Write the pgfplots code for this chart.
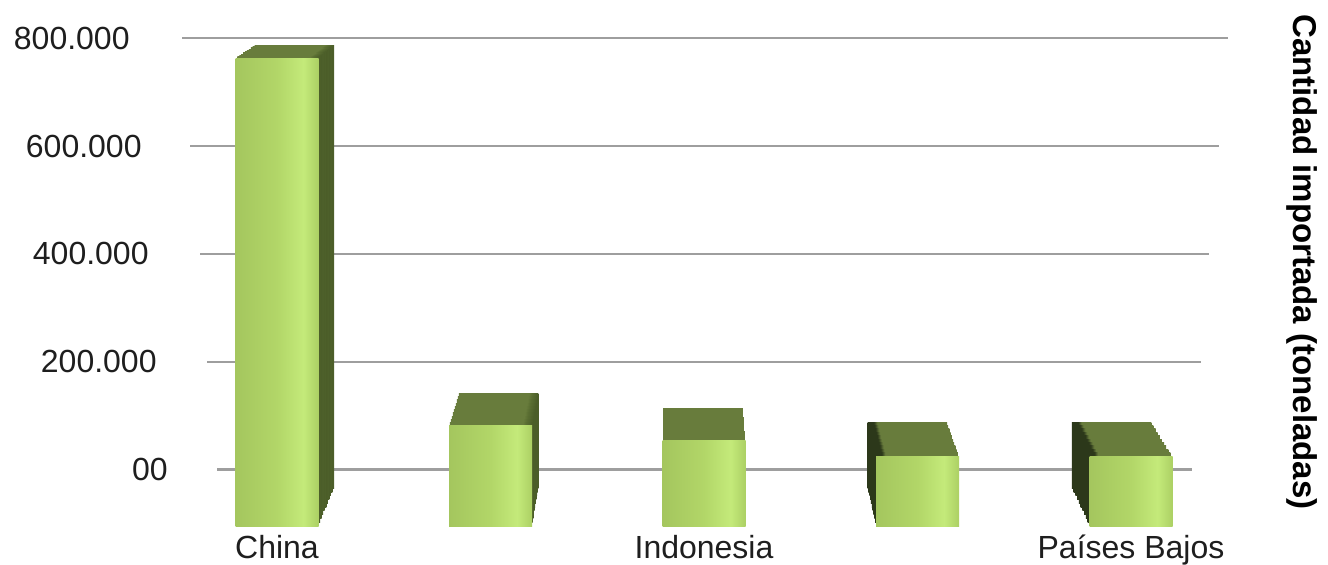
\documentclass[border=0pt]{standalone}
\usepackage{pgfplots}
\pgfplotsset{compat=1.18}
\usepackage{pgfplotstable}
\usepackage{fontspec}
\setmainfont{Liberation Sans}

\definecolor{gridc}{RGB}{158,158,158}
\definecolor{labc}{RGB}{30,30,30}
\definecolor{topc}{RGB}{104,124,60}
\definecolor{sideR}{RGB}{90,110,50}
\definecolor{sideRd}{RGB}{74,92,40}
\definecolor{sideL}{RGB}{44,56,26}
\definecolor{faceA}{RGB}{164,198,94}
\definecolor{faceB}{RGB}{178,214,104}
\definecolor{faceC}{RGB}{196,234,122}
\definecolor{faceD}{RGB}{172,208,100}

% front faces: light green with a highlight towards the right
\pgfdeclarehorizontalshading{frontface}{100bp}{color(0bp)=(faceA); color(25bp)=(faceA); color(50bp)=(faceB); color(66bp)=(faceC); color(75bp)=(faceD); color(100bp)=(faceD)}
% depth slices: olive top, darker side on the right or on the left
\pgfdeclarehorizontalshading{cubeR}{100bp}{color(0bp)=(topc); color(25bp)=(topc); color(69bp)=(topc); color(71bp)=(sideR); color(75bp)=(sideRd); color(100bp)=(sideRd)}
\pgfdeclarehorizontalshading{cubeL}{100bp}{color(0bp)=(sideL); color(25bp)=(sideL); color(29bp)=(sideL); color(31bp)=(topc); color(100bp)=(topc)}

% imported quantity (tonnes) per country, positions 0..4
\pgfplotstableread{
idx val
0 790000
1 169000
2 144000
3 118000
4 118000
}\imports

% one bar of the table, drawn as its own path so that its shading fits it
% #1 bar width, #2 fill or shading, #3 x range holding that bar
\newcommand{\onebar}[3]{%
  \addplot[ybar, bar width=#1, bar shift=0pt, draw=none, #2,
    restrict x to domain=#3] table[x=idx,y=val]{\imports};}

\begin{document}
\begin{tikzpicture}
\useasboundingbox (0,0) rectangle (664pt,282pt);

% back wall: grid lines, value labels and axis title
\begin{axis}[
  at={(0pt,47.15pt)}, anchor=south west, scale only axis,
  width=664pt, height=215.8pt,
  xmin=0, xmax=1328, ymin=0, ymax=800000,
  clip=false, scaled y ticks=false,
  axis line style={draw=none}, major tick length=0pt,
  xtick=\empty,
  ytick={0,200000,400000,600000,800000},
  yticklabels={00,200.000\hspace*{5.5pt},400.000\hspace*{9.5pt},600.000\hspace*{13pt},800.000\hspace*{19pt}},
  yticklabel style={anchor=east, inner sep=0pt, xshift=84pt,
    font=\fontsize{16pt}{19pt}\selectfont, text=labc},
  ylabel={Cantidad importada (toneladas)},
  ylabel style={at={(rel axis cs:0.9804,0.4812)}, anchor=center, rotate=180,
    font=\bfseries\fontsize{16.5pt}{20pt}\selectfont, text=black},
]
\addplot[gridc, line width=1.3pt] coordinates {(182,800000) (1228,800000)};
\addplot[gridc, line width=1.3pt] coordinates {(190,600000) (1219,600000)};
\addplot[gridc, line width=1.3pt] coordinates {(200,400000) (1209,400000)};
\addplot[gridc, line width=1.3pt] coordinates {(207,200000) (1201,200000)};
\addplot[gridc, line width=1.3pt] coordinates {(217,0) (1192,0)};
\end{axis}

% depth of the bars: slices from the back plane towards the front plane
\foreach \t in {1,0.9,0.8,0.7,0.6,0.5,0.4,0.3,0.2,0.1}{
  \pgfmathsetmacro\hs{1-0.043*\t}
  \pgfmathsetmacro\vs{1-0.053*\t}
  \pgfmathsetmacro\lx{0.5*(680+(106.2-680)*\hs)}
  \pgfmathsetmacro\by{0.5*(564-(526-37.7*\t))}
  \pgfmathsetmacro\lw{0.5*1195.6*\hs}
  \pgfmathsetmacro\lh{0.5*473.9*\vs}
  \pgfmathsetmacro\bw{41.5*\hs}
  \begin{axis}[
    at={(\lx pt,\by pt)}, anchor=south west, scale only axis,
    width=\lw pt, height=\lh pt,
    xmin=-0.8, xmax=4.8, ymin=0, ymax=800000,
    hide axis,
  ]
  \onebar{\bw pt}{shading=cubeR}{-0.5:0.5}
  \onebar{\bw pt}{shading=cubeR}{0.5:1.5}
  \onebar{\bw pt}{fill=topc}{1.5:2.5}
  \onebar{\bw pt}{shading=cubeL}{2.5:3.5}
  \onebar{\bw pt}{shading=cubeL}{3.5:4.5}
  \end{axis}
}

% front faces of the bars and country names
\begin{axis}[
  at={(53.1pt,19pt)}, anchor=south west, scale only axis,
  width=597.8pt, height=236.95pt,
  xmin=-0.8, xmax=4.8, ymin=0, ymax=800000,
  axis line style={draw=none}, major tick length=0pt,
  ytick=\empty,
  xtick={0,1,2,3,4},
  xticklabels={China,,Indonesia,,Países Bajos},
  xticklabel style={anchor=north, inner sep=0pt, yshift=-4.5pt,
    font=\fontsize{16pt}{19pt}\selectfont, text=labc},
]
\onebar{41.5pt}{shading=frontface}{-0.5:0.5}
\onebar{41.5pt}{shading=frontface}{0.5:1.5}
\onebar{41.5pt}{shading=frontface}{1.5:2.5}
\onebar{41.5pt}{shading=frontface}{2.5:3.5}
\onebar{41.5pt}{shading=frontface}{3.5:4.5}
\end{axis}
\end{tikzpicture}
\end{document}
